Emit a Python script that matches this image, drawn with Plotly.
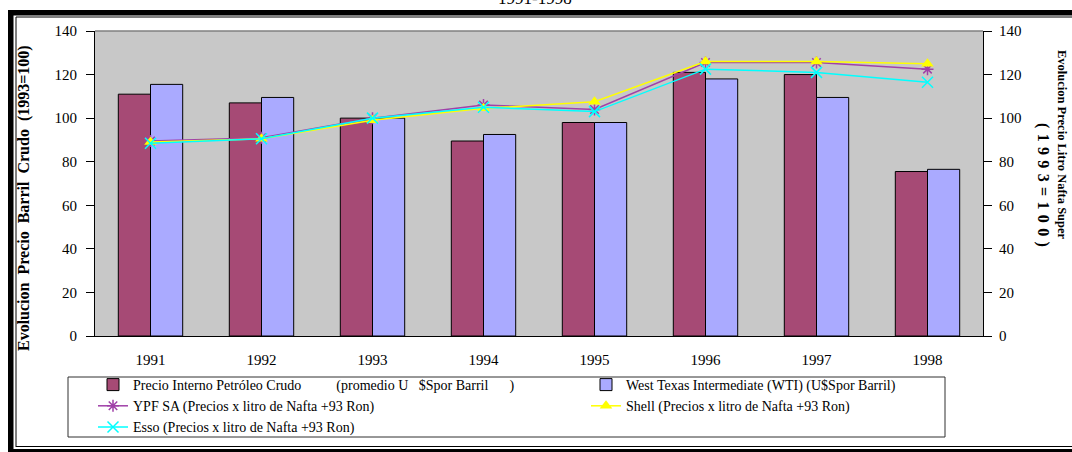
import plotly.graph_objects as go

years = ["1991", "1992", "1993", "1994", "1995", "1996", "1997", "1998"]
crudo_interno = [111, 107, 100, 89.5, 98, 121, 120, 75.5]
wti = [115.5, 109.5, 100, 92.5, 98, 118, 109.5, 76.5]
ypf = [89.5, 91, 100, 106, 104, 125.5, 125.5, 122.5]
shell = [89, 90.5, 99, 104.5, 107.5, 126, 126, 125]
esso = [88.5, 90.5, 100, 105, 103, 122.5, 121, 116.5]

W, H = 1072, 452
L, R, T, B = 95, 89, 31, 116
PW, PH = W - L - R, H - T - B


def px(x):
    return (x - L) / PW


def py(y):
    return (H - B - y) / PH


SERIF = "Liberation Serif"
NB = "\u00a0"
SP = "\u2004"

fig = go.Figure()
fig.add_trace(go.Bar(
    x=years, y=crudo_interno, legend="legend",
    name="Precio Interno Petróleo Crudo" + NB * 10 + "(promedio U" + NB * 3 + "$Spor Barril" + NB * 6 + ")",
    marker=dict(color="#A64A75", line=dict(color="black", width=1)),
))
fig.add_trace(go.Bar(
    x=years, y=wti, legend="legend2",
    name="West Texas Intermediate (WTI) (U$Spor Barril)",
    marker=dict(color="#AAAAFF", line=dict(color="black", width=1)),
))
fig.add_trace(go.Scatter(
    x=years, y=ypf, yaxis="y2", mode="lines+markers", legend="legend",
    name="YPF SA (Precios x litro de Nafta +93 Ron)",
    line=dict(color="#A040A8", width=1.5),
    marker=dict(symbol="asterisk-open", size=10, color="#A040A8", line=dict(color="#A040A8", width=1.5)),
))
fig.add_trace(go.Scatter(
    x=years, y=shell, yaxis="y2", mode="lines+markers", legend="legend2",
    name="Shell (Precios x litro de Nafta +93 Ron)",
    line=dict(color="#FFFF00", width=1.5),
    marker=dict(symbol="triangle-up", size=11, color="#FFFF00"),
))
fig.add_trace(go.Scatter(
    x=years, y=esso, yaxis="y2", mode="lines+markers", legend="legend",
    name="Esso (Precios x litro de Nafta +93 Ron)",
    line=dict(color="#00FFFF", width=1.5),
    marker=dict(symbol="x-thin-open", size=11, color="#00FFFF", line=dict(color="#00FFFF", width=1.5)),
))

tickfont = dict(family=SERIF, size=15, color="black")

shapes = [
    # plot top border
    dict(type="line", xref="paper", yref="paper", x0=0, x1=1, y0=1, y1=1,
         line=dict(color="#808080", width=1.5)),
    # legend box
    dict(type="rect", xref="paper", yref="paper", x0=px(68), x1=px(945), y0=py(377), y1=py(437),
         line=dict(color="#303030", width=1), fillcolor="white", layer="below"),
    # outer frame (black bands)
    dict(type="rect", xref="paper", yref="paper", x0=px(8), x1=px(1080), y0=py(10), y1=py(15.5),
         line=dict(width=0), fillcolor="black"),
    dict(type="rect", xref="paper", yref="paper", x0=px(8), x1=px(13.5), y0=py(10), y1=py(460),
         line=dict(width=0), fillcolor="black"),
    dict(type="rect", xref="paper", yref="paper", x0=px(8), x1=px(1080), y0=py(449), y1=py(460),
         line=dict(width=0), fillcolor="black"),
    # inner thin lines
    dict(type="line", xref="paper", yref="paper", x0=px(16), x1=px(1080), y0=py(17), y1=py(17),
         line=dict(color="black", width=1)),
    dict(type="line", xref="paper", yref="paper", x0=px(16), x1=px(16), y0=py(17), y1=py(447),
         line=dict(color="black", width=1)),
    dict(type="line", xref="paper", yref="paper", x0=px(16), x1=px(1080), y0=py(446.5), y1=py(446.5),
         line=dict(color="black", width=1)),
]

annotations = [
    dict(text="1991-1998", xref="paper", yref="paper", x=px(535), y=py(10.5), xanchor="center",
         yanchor="bottom", showarrow=False, font=dict(family=SERIF, size=17, color="black")),
    dict(text="<b>Evolucion  Precio  Barril  Crudo  (1993=100)</b>", xref="paper", yref="paper",
         x=px(24), y=py(198), xanchor="center", yanchor="middle", textangle=-90, showarrow=False,
         font=dict(family=SERIF, size=16, color="black")),
    dict(text="<b>Evolucion Precio Litro Nafta Super</b>", xref="paper", yref="paper",
         x=px(1062), y=py(145), xanchor="center", yanchor="middle", textangle=90, showarrow=False,
         font=dict(family=SERIF, size=12.5, color="black")),
    dict(text="<b>" + SP.join("(1993=100)") + "</b>", xref="paper", yref="paper",
         x=px(1043), y=py(185), xanchor="center", yanchor="middle", textangle=90, showarrow=False,
         font=dict(family=SERIF, size=16, color="black")),
]

legend_common = dict(
    orientation="v", yanchor="top", xanchor="left",
    bgcolor="rgba(0,0,0,0)", borderwidth=0,
    font=dict(family=SERIF, size=14, color="black"),
    tracegroupgap=0, itemwidth=30, traceorder="normal",
)

fig.update_layout(
    width=W, height=H,
    margin=dict(l=L, r=R, t=T, b=B, pad=0, autoexpand=False),
    paper_bgcolor="white",
    plot_bgcolor="#C8C8C8",
    barmode="group",
    bargap=0.42,
    bargroupgap=0,
    showlegend=True,
    legend=dict(x=px(93), y=py(369), **legend_common),
    legend2=dict(x=px(586), y=py(369), **legend_common),
    xaxis=dict(
        type="category", showline=True, linecolor="black", linewidth=1,
        ticks="", tickfont=tickfont, showgrid=False, zeroline=False,
        ticklabelstandoff=10,
    ),
    yaxis=dict(
        range=[0, 140], dtick=20, showline=True, linecolor="black", linewidth=1,
        ticks="outside", ticklen=8, tickcolor="black", tickfont=tickfont,
        showgrid=False, zeroline=False, ticklabelstandoff=6,
    ),
    yaxis2=dict(
        range=[0, 140], dtick=20, overlaying="y", side="right", showline=True,
        linecolor="black", linewidth=1, ticks="outside", ticklen=8, tickcolor="black",
        tickfont=tickfont, showgrid=False, zeroline=False, ticklabelstandoff=4,
    ),
    shapes=shapes,
    annotations=annotations,
)

fig.write_html("out.html")
